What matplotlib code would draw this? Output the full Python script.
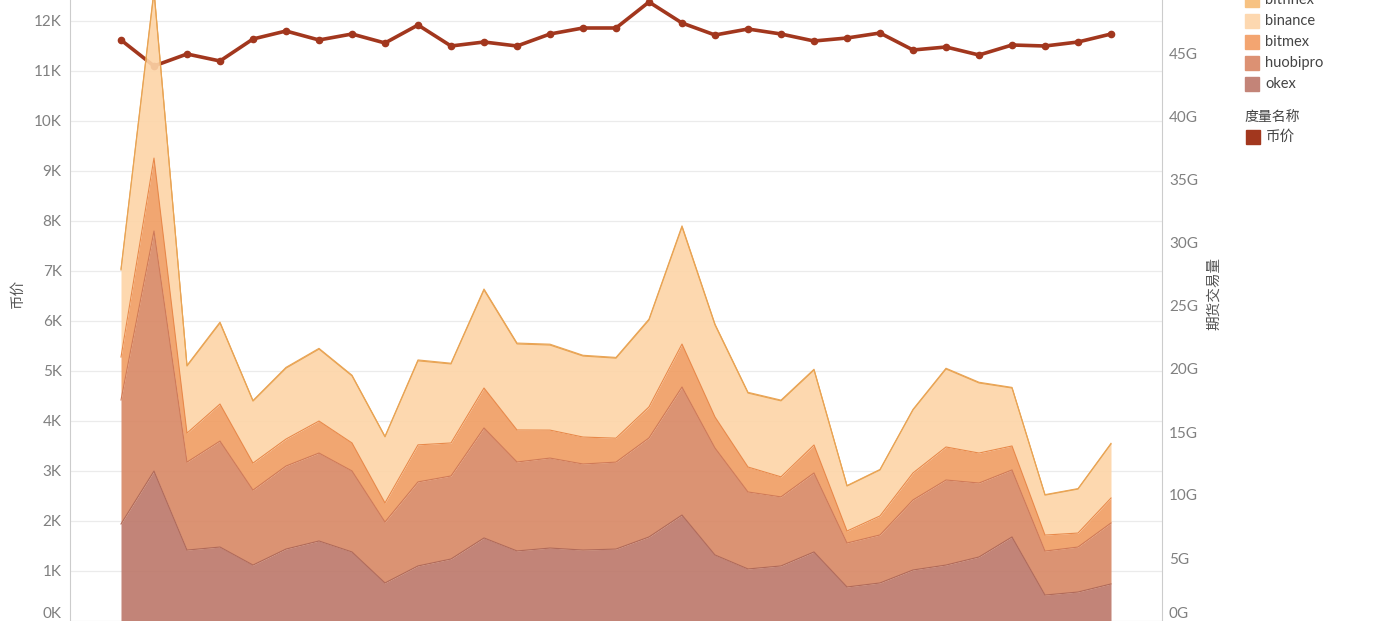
import matplotlib
matplotlib.use("Agg")
import matplotlib.pyplot as plt
from matplotlib.patches import Rectangle
import numpy as np

plt.rcParams['font.family'] = ['Lato', 'Noto Sans CJK SC', 'DejaVu Sans']

# 31 days, volume per exchange in G (right axis), price in K (left axis)
days = list(range(31))
okex = [7.70, 11.90, 5.63, 5.87, 4.44, 5.71, 6.35, 5.48, 3.02, 4.37, 4.92, 6.59, 5.56, 5.79, 5.63, 5.71,
        6.67, 8.41, 5.24, 4.13, 4.37, 5.48, 2.70, 3.02, 4.05, 4.44, 5.08, 6.67, 2.06, 2.30, 2.94]
huobipro = [9.84, 19.05, 6.98, 8.41, 5.95, 6.59, 6.98, 6.43, 4.84, 6.67, 6.59, 8.73, 7.06, 7.14, 6.83, 6.90,
            7.86, 10.16, 8.49, 6.11, 5.48, 6.27, 3.49, 3.81, 5.56, 6.75, 5.87, 5.32, 3.49, 3.57, 4.84]
bitmex = [3.41, 5.79, 2.30, 2.94, 2.14, 2.14, 2.54, 2.22, 1.51, 2.94, 2.62, 3.17, 2.54, 2.22, 2.14, 1.90,
          2.46, 3.41, 2.46, 1.98, 1.59, 2.22, 0.95, 1.51, 2.14, 2.62, 2.38, 1.90, 1.27, 1.11, 1.98]
binance = [6.90, 13.17, 5.32, 6.43, 4.92, 5.63, 5.71, 5.32, 5.24, 6.67, 6.27, 7.78, 6.83, 6.75, 6.43, 6.35,
           6.90, 9.29, 7.30, 5.87, 6.03, 5.95, 3.57, 3.65, 5.00, 6.19, 5.56, 4.60, 3.17, 3.49, 4.29]
bitfinex = [0.08, 0.15, 0.06, 0.07, 0.05, 0.06, 0.06, 0.06, 0.05, 0.07, 0.06, 0.08, 0.07, 0.07, 0.06, 0.06,
            0.07, 0.09, 0.07, 0.06, 0.06, 0.06, 0.04, 0.04, 0.05, 0.06, 0.06, 0.05, 0.04, 0.04, 0.05]
price = [11.62, 11.10, 11.34, 11.20, 11.64, 11.80, 11.62, 11.74, 11.56, 11.92, 11.50, 11.58, 11.50, 11.74,
         11.86, 11.86, 12.38, 11.96, 11.72, 11.84, 11.74, 11.60, 11.66, 11.76, 11.42, 11.48, 11.32, 11.52,
         11.50, 11.58, 11.74]

names = ["okex", "huobipro", "bitmex", "binance", "bitfinex"]
series = [okex, huobipro, bitmex, binance, bitfinex]
fills = ["#BC7769", "#D88764", "#F09D62", "#FDD4A7", "#F6BB72"]
edges = ["#B06A5A", "#CF7A58", "#E8894A", "#E9A454", "#E9A454"]
swatch = {"bitfinex": "#F7C282", "binance": "#FDD8B0", "bitmex": "#F3A571",
          "huobipro": "#DC9173", "okex": "#C38478"}
price_color = "#A2371E"

W, H = 1383, 621
fig = plt.figure(figsize=(W / 100, H / 100), dpi=100)
ax = fig.add_axes([70 / W, 0, 1092 / W, 1])
ax2 = ax.twinx()

# price line (left axis, drawn under the areas)
ax.plot(days, price, color=price_color, lw=2.6, marker='o', ms=4.5, zorder=3)
ax.set_ylim(0, 12.42)
ax.set_xlim(-1.545, 31.545)
ax.set_yticks(range(0, 13))
ax.set_yticklabels([f"{v}K" for v in range(0, 13)])
ax.grid(axis='y', color='#EBEBEB', lw=0.9)
ax.set_axisbelow(True)

# stacked areas (right axis)
base = np.zeros(len(days))
for vals, fc, ec in zip(series, fills, edges):
    top = base + np.array(vals)
    ax2.fill_between(days, base, top, color=fc, alpha=0.9, lw=0, zorder=2)
    ax2.plot(days, top, color=ec, lw=0.8, zorder=3)
    base = top
ax2.set_ylim(0, H / 12.6)
ax2.set_yticks(range(0, 50, 5))
ax2.set_yticklabels([f"{v}G" for v in range(0, 50, 5)])

for a in (ax, ax2):
    a.set_xticks([])
    a.spines['top'].set_visible(False)
    a.spines['bottom'].set_visible(False)
    a.tick_params(axis='y', length=0, colors='#808080', labelsize=11)
ax.spines['right'].set_visible(False)
ax.spines['left'].set_color('#CCCCCC')
ax2.spines['left'].set_visible(False)
ax2.spines['right'].set_color('#CCCCCC')
ax.tick_params(axis='y', pad=6)
ax2.tick_params(axis='y', pad=5)
ax.get_yticklabels()[0].set_va('bottom')
ax2.get_yticklabels()[0].set_va('bottom')

fig.text(18 / W, 1 - 293 / H, "币价", rotation=90, ha='center', va='center',
         fontsize=10.5, color='#555555')
fig.text(1214 / W, 1 - 293 / H, "期货交易量", rotation=90, ha='center', va='center',
         fontsize=10.5, color='#555555')

# legend
legend_order = ["bitfinex", "binance", "bitmex", "huobipro", "okex"]
for i, name in enumerate(legend_order):
    yc = 0 + 21 * i
    fig.patches.append(Rectangle((1245 / W, 1 - (yc + 7) / H), 14 / W, 14 / H,
                                 transform=fig.transFigure, color=swatch[name]))
    fig.text(1265 / W, 1 - yc / H, name, ha='left', va='center', fontsize=10.5, color='#444444')
fig.text(1244 / W, 1 - 117 / H, "度量名称", ha='left', va='center', fontsize=10, color='#444444')
fig.patches.append(Rectangle((1246 / W, 1 - 144 / H), 14 / W, 14 / H,
                             transform=fig.transFigure, color=price_color))
fig.text(1266 / W, 1 - 137 / H, "币价", ha='left', va='center', fontsize=10.5, color='#444444')

fig.savefig("out.png", dpi=100)
